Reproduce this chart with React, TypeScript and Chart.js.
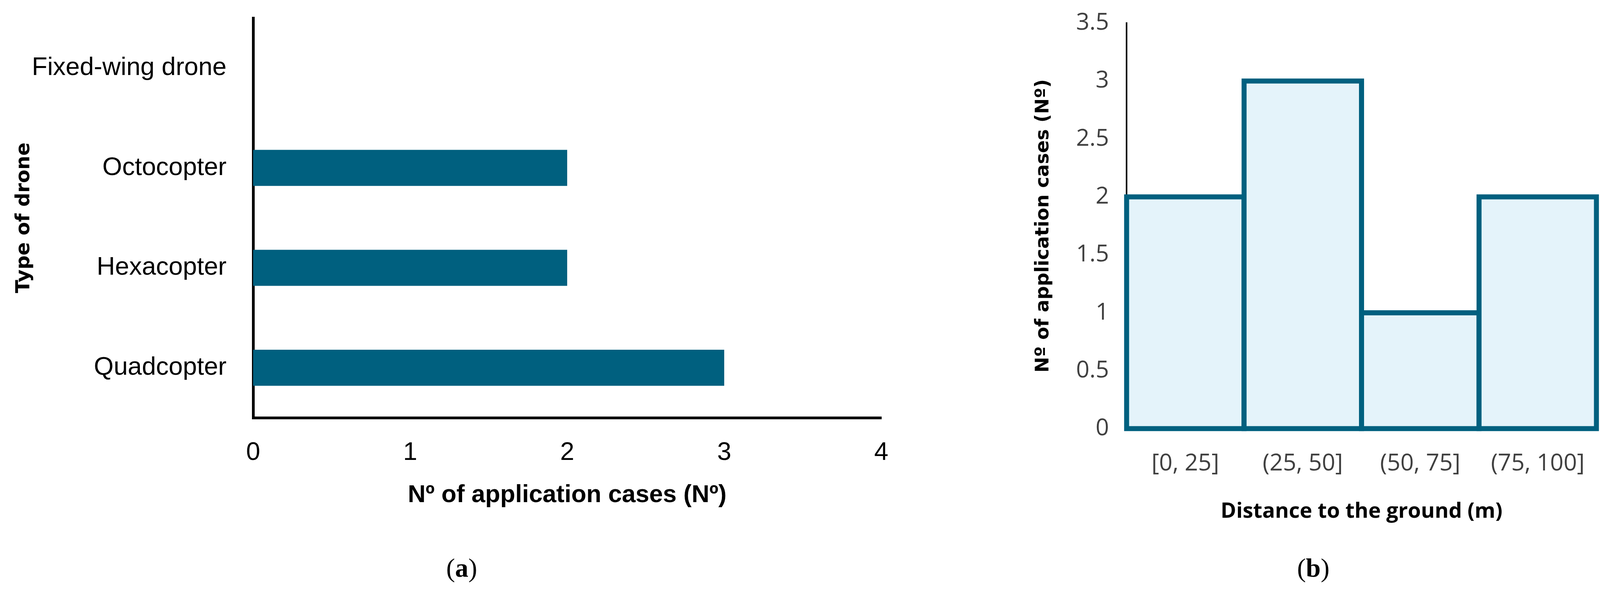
import React, { useEffect, useRef } from "react";
import { Chart, registerables } from "chart.js";

Chart.register(...registerables);

// ---- Panel (a) data ----
const droneTypes = ["Fixed-wing drone", "Octocopter", "Hexacopter", "Quadcopter"];
const droneCases = [0, 2, 2, 3];
const casesMinA = 0;
const casesMaxA = 4;
const casesStepA = 1;
const titleAX = "Nº of application cases (Nº)";
const titleAY = "Type of drone";

// ---- Panel (b) data ----
const distanceBins = ["[0, 25]", "(25, 50]", "(50, 75]", "(75, 100]"];
const distanceCases = [2, 3, 1, 2];
const casesMinB = 0;
const casesMaxB = 3.5;
const casesStepB = 0.5;
const titleBX = "Distance to the ground (m)";
const titleBY = "Nº of application cases (Nº)";

const TEAL = "#00607F";
const LIGHT = "#E4F3FA";
const SANS = '"Liberation Sans", Arial, sans-serif';
const WIDE_BOLD = '"DejaVu Sans", Verdana, sans-serif';
const OPEN = '"Open Sans", "Liberation Sans", sans-serif';

const fixWidth = (w: number) => (s: any) => {
  s.width = w;
  s.paddingTop = 0;
  s.paddingBottom = 0;
  s.paddingLeft = 0;
  s.paddingRight = 0;
};
const fixHeight = (h: number) => (s: any) => {
  s.height = h;
  s.paddingTop = 0;
  s.paddingBottom = 0;
  s.paddingLeft = 0;
  s.paddingRight = 0;
};

export default function App() {
  const refA = useRef<HTMLCanvasElement>(null);
  const refB = useRef<HTMLCanvasElement>(null);

  useEffect(() => {
    const chartA = new Chart(refA.current as HTMLCanvasElement, {
      type: "bar",
      data: {
        labels: droneTypes,
        datasets: [
          {
            data: droneCases,
            backgroundColor: TEAL,
            borderWidth: 0,
            barPercentage: 0.36,
            categoryPercentage: 1,
            inflateAmount: 0,
          } as any,
        ],
      },
      options: {
        indexAxis: "y",
        responsive: false,
        animation: false,
        devicePixelRatio: 1,
        layout: { padding: { left: 0, top: 46, right: 144, bottom: 0 } },
        plugins: { legend: { display: false }, tooltip: { enabled: false } },
        scales: {
          x: {
            type: "linear",
            position: "bottom",
            min: casesMinA,
            max: casesMaxA,
            ticks: {
              stepSize: casesStepA,
              padding: 51,
              color: "#000",
              font: { family: SANS, size: 65 },
            },
            grid: { display: false, drawTicks: false },
            border: { display: true, color: "#000", width: 7 },
            title: {
              display: true,
              text: titleAX,
              color: "#000",
              font: { family: SANS, size: 63, weight: "bold" },
              padding: { top: 0, bottom: 210 },
            },
            afterFit: fixHeight(446),
          },
          y: {
            type: "category",
            position: "left",
            z: 1,
            ticks: {
              padding: 68,
              color: "#000",
              font: { family: SANS, size: 65 },
            },
            grid: { display: false, drawTicks: false },
            border: { display: true, color: "#000", width: 7 },
            title: {
              display: true,
              text: titleAY,
              color: "#000",
              font: { family: WIDE_BOLD, size: 50, weight: "bold" },
              padding: { top: 32, bottom: 0 },
            },
            afterFit: fixWidth(648),
          },
        },
      } as any,
    });

    const chartB = new Chart(refB.current as HTMLCanvasElement, {
      type: "bar",
      data: {
        labels: distanceBins,
        datasets: [
          {
            data: distanceCases,
            backgroundColor: LIGHT,
            borderColor: TEAL,
            borderWidth: 13,
            borderSkipped: false,
            inflateAmount: 6.5,
            barPercentage: 1,
            categoryPercentage: 1,
            clip: false,
          } as any,
        ],
      },
      options: {
        responsive: false,
        animation: false,
        devicePixelRatio: 1,
        layout: { padding: { left: 0, top: 59, right: 41, bottom: 0 } },
        plugins: { legend: { display: false }, tooltip: { enabled: false } },
        scales: {
          x: {
            type: "category",
            position: "bottom",
            z: 1,
            ticks: {
              padding: 54,
              color: "#404040",
              font: { family: OPEN, size: 60 },
            },
            grid: { display: false, drawTicks: false },
            border: { display: true, color: "#000", width: 8 },
            title: {
              display: true,
              text: titleBX,
              color: "#000",
              font: { family: OPEN, size: 54, weight: "bold" },
              padding: { top: 0, bottom: 173 },
            },
            afterFit: fixHeight(418),
          },
          y: {
            type: "linear",
            position: "left",
            z: 1,
            min: casesMinB,
            max: casesMaxB,
            ticks: {
              stepSize: casesStepB,
              padding: 45,
              color: "#404040",
              font: { family: OPEN, size: 60 },
              callback: (v: any) => String(v),
            },
            grid: { display: false, drawTicks: false },
            border: { display: true, color: "#000", width: 4 },
            title: {
              display: true,
              text: titleBY,
              color: "#000",
              font: { family: WIDE_BOLD, size: 48, weight: "bold" },
              padding: { top: 243, bottom: 0 },
            },
            afterFit: fixWidth(484),
          },
        },
      } as any,
    });

    return () => {
      chartA.destroy();
      chartB.destroy();
    };
  }, []);

  const caption = (x: number): React.CSSProperties => ({
    position: "absolute",
    left: x,
    top: 1453,
    transform: "translate(-50%, -50%)",
    fontFamily: '"Liberation Serif", "Times New Roman", serif',
    fontSize: 68,
    lineHeight: 1,
    whiteSpace: "nowrap",
    color: "#000",
  });

  return (
    <div
      style={{
        position: "absolute",
        left: 0,
        top: 0,
        width: 4128,
        height: 1515,
        background: "#fff",
        overflow: "hidden",
      }}
    >
      <canvas
        ref={refA}
        width={2400}
        height={1515}
        style={{ position: "absolute", left: 0, top: 0, width: 2400, height: 1515 }}
      />
      <canvas
        ref={refB}
        width={1728}
        height={1515}
        style={{ position: "absolute", left: 2400, top: 0, width: 1728, height: 1515 }}
      />
      <div style={caption(1182)}>
        (<b>a</b>)
      </div>
      <div style={caption(3362)}>
        (<b>b</b>)
      </div>
    </div>
  );
}
